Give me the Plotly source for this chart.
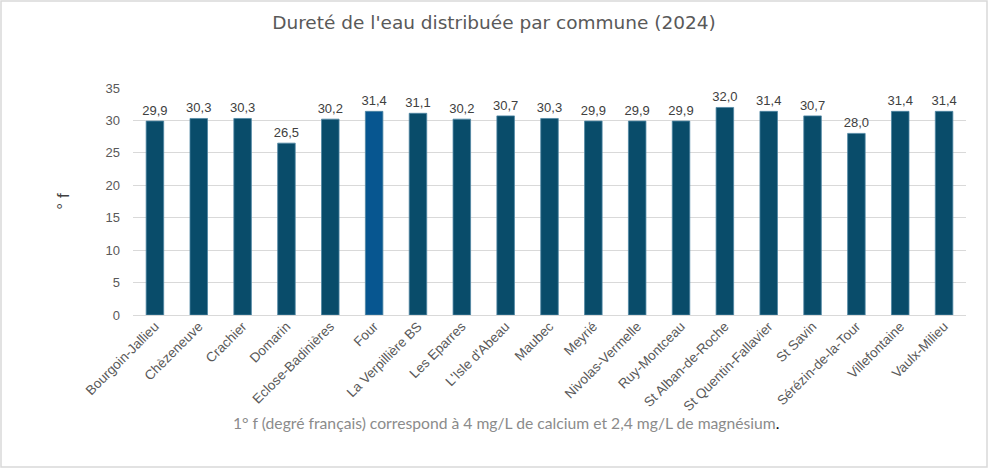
import plotly.graph_objects as go

communes = ["Bourgoin-Jallieu", "Chèzeneuve", "Crachier", "Domarin", "Eclose-Badinières",
            "Four", "La Verpillière BS", "Les Eparres", "L'Isle d'Abeau", "Maubec", "Meyrié",
            "Nivolas-Vermelle", "Ruy-Montceau", "St Alban-de-Roche", "St Quentin-Fallavier",
            "St Savin", "Sérézin-de-la-Tour", "Villefontaine", "Vaulx-Milieu"]
durete = [29.9, 30.3, 30.3, 26.5, 30.2, 31.4, 31.1, 30.2, 30.7, 30.3, 29.9,
          29.9, 29.9, 32.0, 31.4, 30.7, 28.0, 31.4, 31.4]
y_ticks = [0, 5, 10, 15, 20, 25, 30, 35]

BASE = "#094c6a"
HIGHLIGHT = "#075690"
colors = [HIGHLIGHT if c == "Four" else BASE for c in communes]

fig = go.Figure(go.Bar(
    x=communes, y=durete,
    marker=dict(color=colors, line=dict(color="#4f86a3", width=0.8)),
    texttemplate="%{y:.1f}", textposition="outside", constraintext="none",
    textfont=dict(family="Liberation Sans, Arial", size=13, color="#404040"),
    cliponaxis=False,
))

L, R, T, B = 133, 24, 88, 156
W, H = 990, 471
pw, ph = W - L - R, H - T - B

fig.update_layout(
    width=W, height=H,
    margin=dict(l=L, r=R, t=T, b=B),
    plot_bgcolor="white", paper_bgcolor="white",
    separators=", ",
    bargap=0.6,
    showlegend=False,
    title=dict(text="Dureté de l'eau distribuée par commune (2024)",
               x=0.499, xanchor="center", y=1 - 23 / H, yanchor="middle",
               font=dict(family="DejaVu Sans", size=18.5, color="#595959")),
    xaxis=dict(tickangle=-45, showgrid=False, showline=False, ticks="", automargin=False,
               tickfont=dict(family="Liberation Sans, Arial", size=13.5, color="#595959")),
    yaxis=dict(range=[0, 35], tickvals=y_ticks, showgrid=True, gridcolor="#d9d9d9",
               gridwidth=1, zeroline=True, zerolinecolor="#d9d9d9", zerolinewidth=1,
               ticks="", ticklabelstandoff=12, automargin=False,
               tickfont=dict(family="Liberation Sans, Arial", size=13, color="#595959"),
               title=dict(text="° f", standoff=31,
                          font=dict(family="Liberation Sans, Arial", size=17, color="#404040"))),
    annotations=[dict(
        text="1° f (degré français) correspond à 4 mg/L de calcium et 2,4 mg/L de magnésium<span style='color:#000000'>.</span>",
        xref="paper", yref="paper", x=(505.5 - L) / pw, y=(315 - 423) / ph,
        xanchor="center", yanchor="middle", showarrow=False,
        font=dict(family="Lato, Open Sans", size=15.7, color="#8b8b8b"))],
    shapes=[dict(type="rect", xref="paper", yref="paper",
                 x0=(1 - L) / pw, x1=(987 - L) / pw, y0=(315 - 467) / ph, y1=(315 - 1) / ph,
                 line=dict(color="#d9d9d9", width=1.5), fillcolor="rgba(0,0,0,0)", layer="below")],
)

fig.write_html("out.html", config={"displayModeBar": False},
               post_script="document.body.style.margin='0';document.body.style.overflow='hidden';")
